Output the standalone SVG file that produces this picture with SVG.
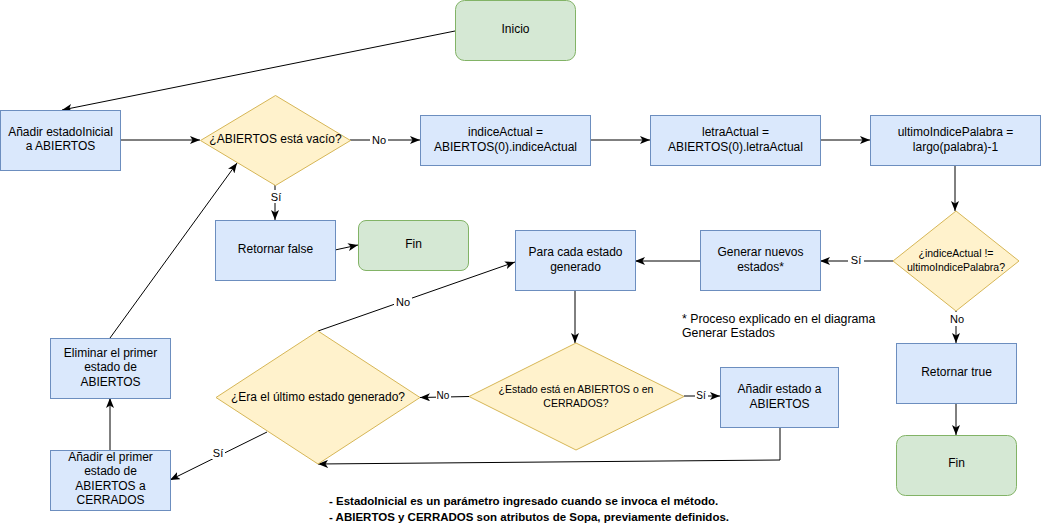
<svg xmlns="http://www.w3.org/2000/svg" width="1041" height="525" viewBox="0 0 1041 525">
<style>
text{font-family:"Liberation Sans",Arial,Helvetica,sans-serif;font-size:12px;fill:#000;text-anchor:middle}
.blue{fill:#dae8fc;stroke:#6c8ebf;stroke-width:1}
.green{fill:#d5e8d4;stroke:#82b366;stroke-width:1}
.yellow{fill:#fff2cc;stroke:#d6b656;stroke-width:1}
.edge{fill:none;stroke:#000;stroke-width:1;marker-end:url(#arr)}
.lbl{font-size:11px}
.sm{font-size:10.5px}
.lbg{fill:#fff}
.note{text-anchor:start;font-size:12.3px}
.bold{text-anchor:start;font-weight:bold;font-size:11.5px}
</style>
<defs>
<marker id="arr" viewBox="0 0 10 8" refX="10" refY="4" markerWidth="10" markerHeight="8" markerUnits="userSpaceOnUse" orient="auto">
<path d="M0,0 L10,4 L0,8 L2.5,4 z" fill="#000"/>
</marker>
</defs>
<rect width="1041" height="525" fill="#fff"/>
<g id="connectors">
<path class="edge" d="M455,31 L62,110"/>
<path class="edge" d="M120,140 L200,140"/>
<path class="edge" d="M350,140 L420,140"/>
<path class="edge" d="M590,140 L650,140"/>
<path class="edge" d="M820,140 L870,140"/>
<path class="edge" d="M955,165 L955,211"/>
<path class="edge" d="M893,261 L820,261"/>
<path class="edge" d="M700,261 L635,261"/>
<path class="edge" d="M575,290 L575,343"/>
<path class="edge" d="M469,396.5 L420,397.5"/>
<path class="edge" d="M684,396 L720,396"/>
<path class="edge" d="M780,427 L780,460 L318,464"/>
<path class="edge" d="M318,331 L515,262"/>
<path class="edge" d="M267,432 L170,480"/>
<path class="edge" d="M110,450 L110,398"/>
<path class="edge" d="M110,338 L237,163"/>
<path class="edge" d="M275,185 L275,220"/>
<path class="edge" d="M335,250 L358,245"/>
<path class="edge" d="M956,311 L956,343"/>
<path class="edge" d="M956,403 L956,435"/>
<rect class="lbg" x="370" y="133" width="18" height="13"/>
<text class="lbl" x="379" y="144">No</text>
<rect class="lbg" x="269" y="190" width="14" height="13"/>
<text class="lbl" x="276" y="201">Sí</text>
<rect class="lbg" x="848" y="254" width="16" height="13"/>
<text class="lbl" x="856" y="264">Sí</text>
<rect class="lbg" x="394" y="295" width="18" height="13"/>
<text class="lbl" x="403" y="306">No</text>
<rect class="lbg" x="436" y="390" width="15" height="11"/>
<text class="lbl" x="443" y="399" style="font-size:10px">No</text>
<rect class="lbg" x="695" y="389" width="13" height="11"/>
<text class="lbl" x="701" y="399" style="font-size:10px">Sí</text>
<rect class="lbg" x="211" y="446" width="14" height="13"/>
<text class="lbl" x="218" y="457">Sí</text>
<rect class="lbg" x="947" y="312" width="20" height="14"/>
<text class="lbl" x="957" y="323">No</text>
</g>
<g id="inicio"><rect class="green" x="455.5" y="0.5" width="120" height="60" rx="9"/><text x="515.5" y="33">Inicio</text></g>
<g id="anadirInicial"><rect class="blue" x="0.5" y="110.5" width="120" height="60"/><text x="60.5" y="136">Añadir estadoInicial</text><text x="60.5" y="150">a ABIERTOS</text></g>
<g id="abiertosVacio"><polygon class="yellow" points="275.5,95.5 350.5,140.5 275.5,185.5 200.5,140.5"/><text x="275.5" y="143">¿ABIERTOS está vacío?</text></g>
<g id="indiceActual"><rect class="blue" x="420.5" y="115.5" width="170" height="50"/><text x="505.5" y="136">indiceActual =</text><text x="505.5" y="151">ABIERTOS(0).indiceActual</text></g>
<g id="letraActual"><rect class="blue" x="650.5" y="115.5" width="170" height="50"/><text x="735.5" y="136">letraActual =</text><text x="735.5" y="151">ABIERTOS(0).letraActual</text></g>
<g id="ultimoIndice"><rect class="blue" x="870.5" y="115.5" width="170" height="50"/><text x="955.5" y="136">ultimoIndicePalabra =</text><text x="955.5" y="151">largo(palabra)-1</text></g>
<g id="indiceDiff"><polygon class="yellow" points="956,211 1019,261 956,311 893,261"/><text class="sm" x="956" y="257">¿indiceActual !=</text><text class="sm" x="956" y="271">ultimoIndicePalabra?</text></g>
<g id="generar"><rect class="blue" x="700.5" y="230.5" width="120" height="60"/><text x="760.5" y="256">Generar nuevos</text><text x="760.5" y="270.5">estados*</text></g>
<g id="paraCada"><rect class="blue" x="515.5" y="230.5" width="120" height="60"/><text x="575.5" y="256">Para cada estado</text><text x="575.5" y="270.5">generado</text></g>
<g id="retornarFalse"><rect class="blue" x="215.5" y="220.5" width="120" height="60"/><text x="275.5" y="253">Retornar false</text></g>
<g id="fin1"><rect class="green" x="358.5" y="220.5" width="110" height="50" rx="7.5"/><text x="413.5" y="248">Fin</text></g>
<g id="estadoEn"><polygon class="yellow" points="576,343 684,396.5 576,450 469,396.5"/><text class="sm" x="576" y="393">¿Estado está en ABIERTOS o en</text><text class="sm" x="576" y="407">CERRADOS?</text></g>
<g id="anadirEstado"><rect class="blue" x="720.5" y="367.5" width="118" height="60"/><text x="779.5" y="393">Añadir estado a</text><text x="779.5" y="408">ABIERTOS</text></g>
<g id="eraUltimo"><polygon class="yellow" points="318,331 420,397.5 318,464 216,397.5"/><text x="318" y="400.5">¿Era el último estado generado?</text></g>
<g id="eliminar"><rect class="blue" x="50.5" y="338.5" width="120" height="60"/><text x="110.5" y="357">Eliminar el primer</text><text x="110.5" y="371">estado de</text><text x="110.5" y="386">ABIERTOS</text></g>
<g id="anadirPrimero"><rect class="blue" x="50.5" y="450.5" width="120" height="60"/><text x="110.5" y="461">Añadir el primer</text><text x="110.5" y="475">estado de</text><text x="110.5" y="490">ABIERTOS a</text><text x="110.5" y="504">CERRADOS</text></g>
<g id="retornarTrue"><rect class="blue" x="896.5" y="343.5" width="120" height="60"/><text x="956.5" y="376">Retornar true</text></g>
<g id="fin2"><rect class="green" x="896.5" y="435.5" width="120" height="60" rx="9"/><text x="956.5" y="467">Fin</text></g>
<g id="nota"><text class="note" x="682" y="323">* Proceso explicado en el diagrama</text><text class="note" x="682" y="337">Generar Estados</text></g>
<g id="notasPie"><text class="bold" x="329" y="505">- EstadoInicial es un parámetro ingresado cuando se invoca el método.</text><text class="bold" x="329" y="521">- ABIERTOS y CERRADOS son atributos de Sopa, previamente definidos.</text></g>
</svg>
